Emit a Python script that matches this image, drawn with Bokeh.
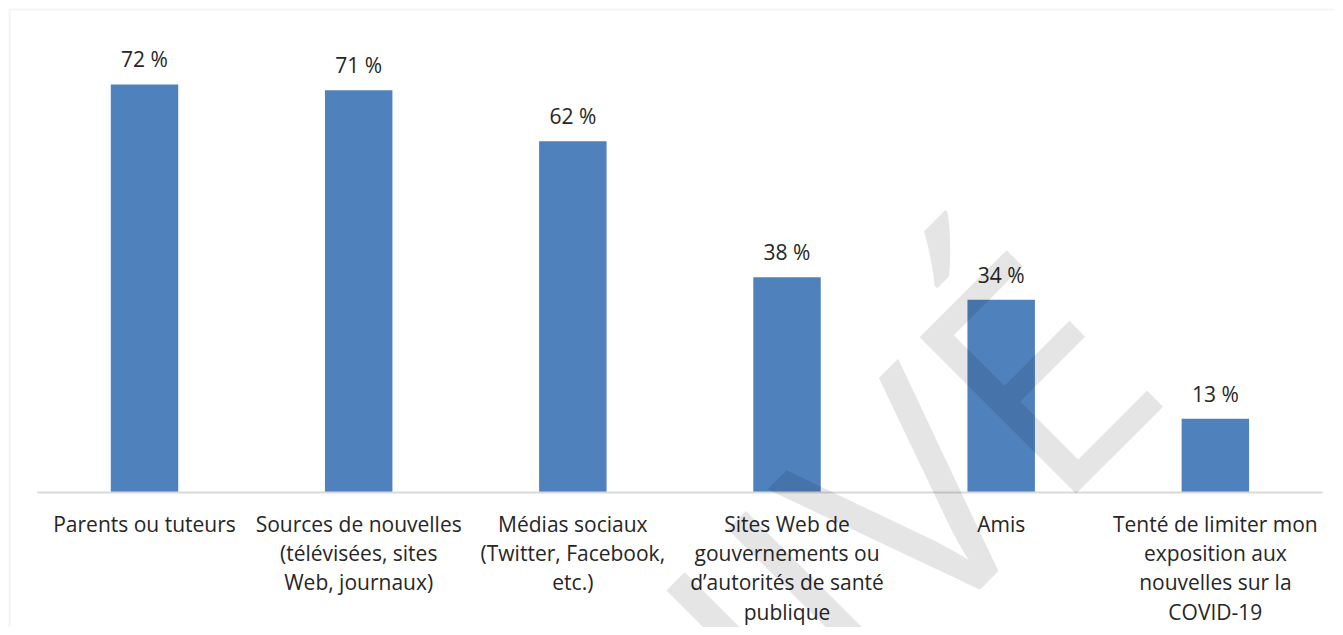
from bokeh.plotting import figure
from bokeh.models import ColumnDataSource, Range1d, LabelSet, Label, FixedTicker, BoxAnnotation
from bokeh.core.properties import value
from bokeh.embed import file_html
from bokeh.resources import INLINE

categories = [
    "Parents ou tuteurs",
    "Sources de nouvelles\n(télévisées, sites\nWeb, journaux)",
    "Médias sociaux\n(Twitter, Facebook,\netc.)",
    "Sites Web de\ngouvernements ou\nd’autorités de santé\npublique",
    "Amis",
    "Tenté de limiter mon\nexposition aux\nnouvelles sur la\nCOVID-19",
]
values = [72, 71, 62, 38, 34, 13]
value_labels = ["72 %", "71 %", "62 %", "38 %", "34 %", "13 %"]

FONT = "Open Sans"
TEXT_COLOR = "#262626"
GRAY = "#d9d9d9"

idx = list(range(len(categories)))
src = ColumnDataSource(data=dict(x=idx, val=values, lab=value_labels))

X0, X1 = -0.6724, 5.561
Y0, Y1 = -23.82, 86.82

p = figure(
    width=1335, height=627,
    x_range=Range1d(X0, X1),
    y_range=Range1d(Y0, Y1),
    output_backend="svg", toolbar_location=None,
    min_border=0,
)
p.outline_line_color = None
p.background_fill_color = "white"
p.border_fill_color = "white"
p.grid.visible = False
p.yaxis.visible = False

# chart-area border (top and left edges visible)
p.add_layout(BoxAnnotation(left=X0 + 9 / 214.17, top=Y1 - 9 / 5.667,
                           right=X1 + 1, bottom=Y0 - 5,
                           fill_color=None, line_color=GRAY, line_width=2))

p.vbar(x="x", top="val", width=0.315, source=src, fill_color="#4f81bd", line_color=None)

# baseline of the category axis
p.line(x=[-0.5, len(categories) - 0.5], y=[0, 0], line_color=GRAY, line_width=2)

xa = p.xaxis[0]
xa.fixed_location = 0
xa.ticker = FixedTicker(ticks=idx)
xa.major_label_overrides = {i: c for i, c in zip(idx, categories)}
xa.axis_line_color = None
xa.major_tick_line_color = None
xa.minor_tick_line_color = None
xa.major_label_standoff = 11
xa.major_label_text_font = FONT
xa.major_label_text_font_size = "21px"
xa.major_label_text_color = TEXT_COLOR
xa.major_label_text_line_height = 1.05
xa.major_label_orientation = "horizontal"

labels = LabelSet(x="x", y="val", text="lab", source=src, text_align="center",
                  text_baseline="alphabetic", y_offset=17, text_font=value(FONT),
                  text_font_size=value("21px"), text_color=TEXT_COLOR)
p.add_layout(labels)

wm = Label(x=4.422, y=32.47, text="ARCHIVÉ", angle=45, angle_units="deg",
           text_align="right", text_baseline="alphabetic", text_font=FONT,
           text_font_size="310px", text_color="black", text_alpha=0.1)
p.add_layout(wm)

open("out.html", "w").write(file_html(p, INLINE))
